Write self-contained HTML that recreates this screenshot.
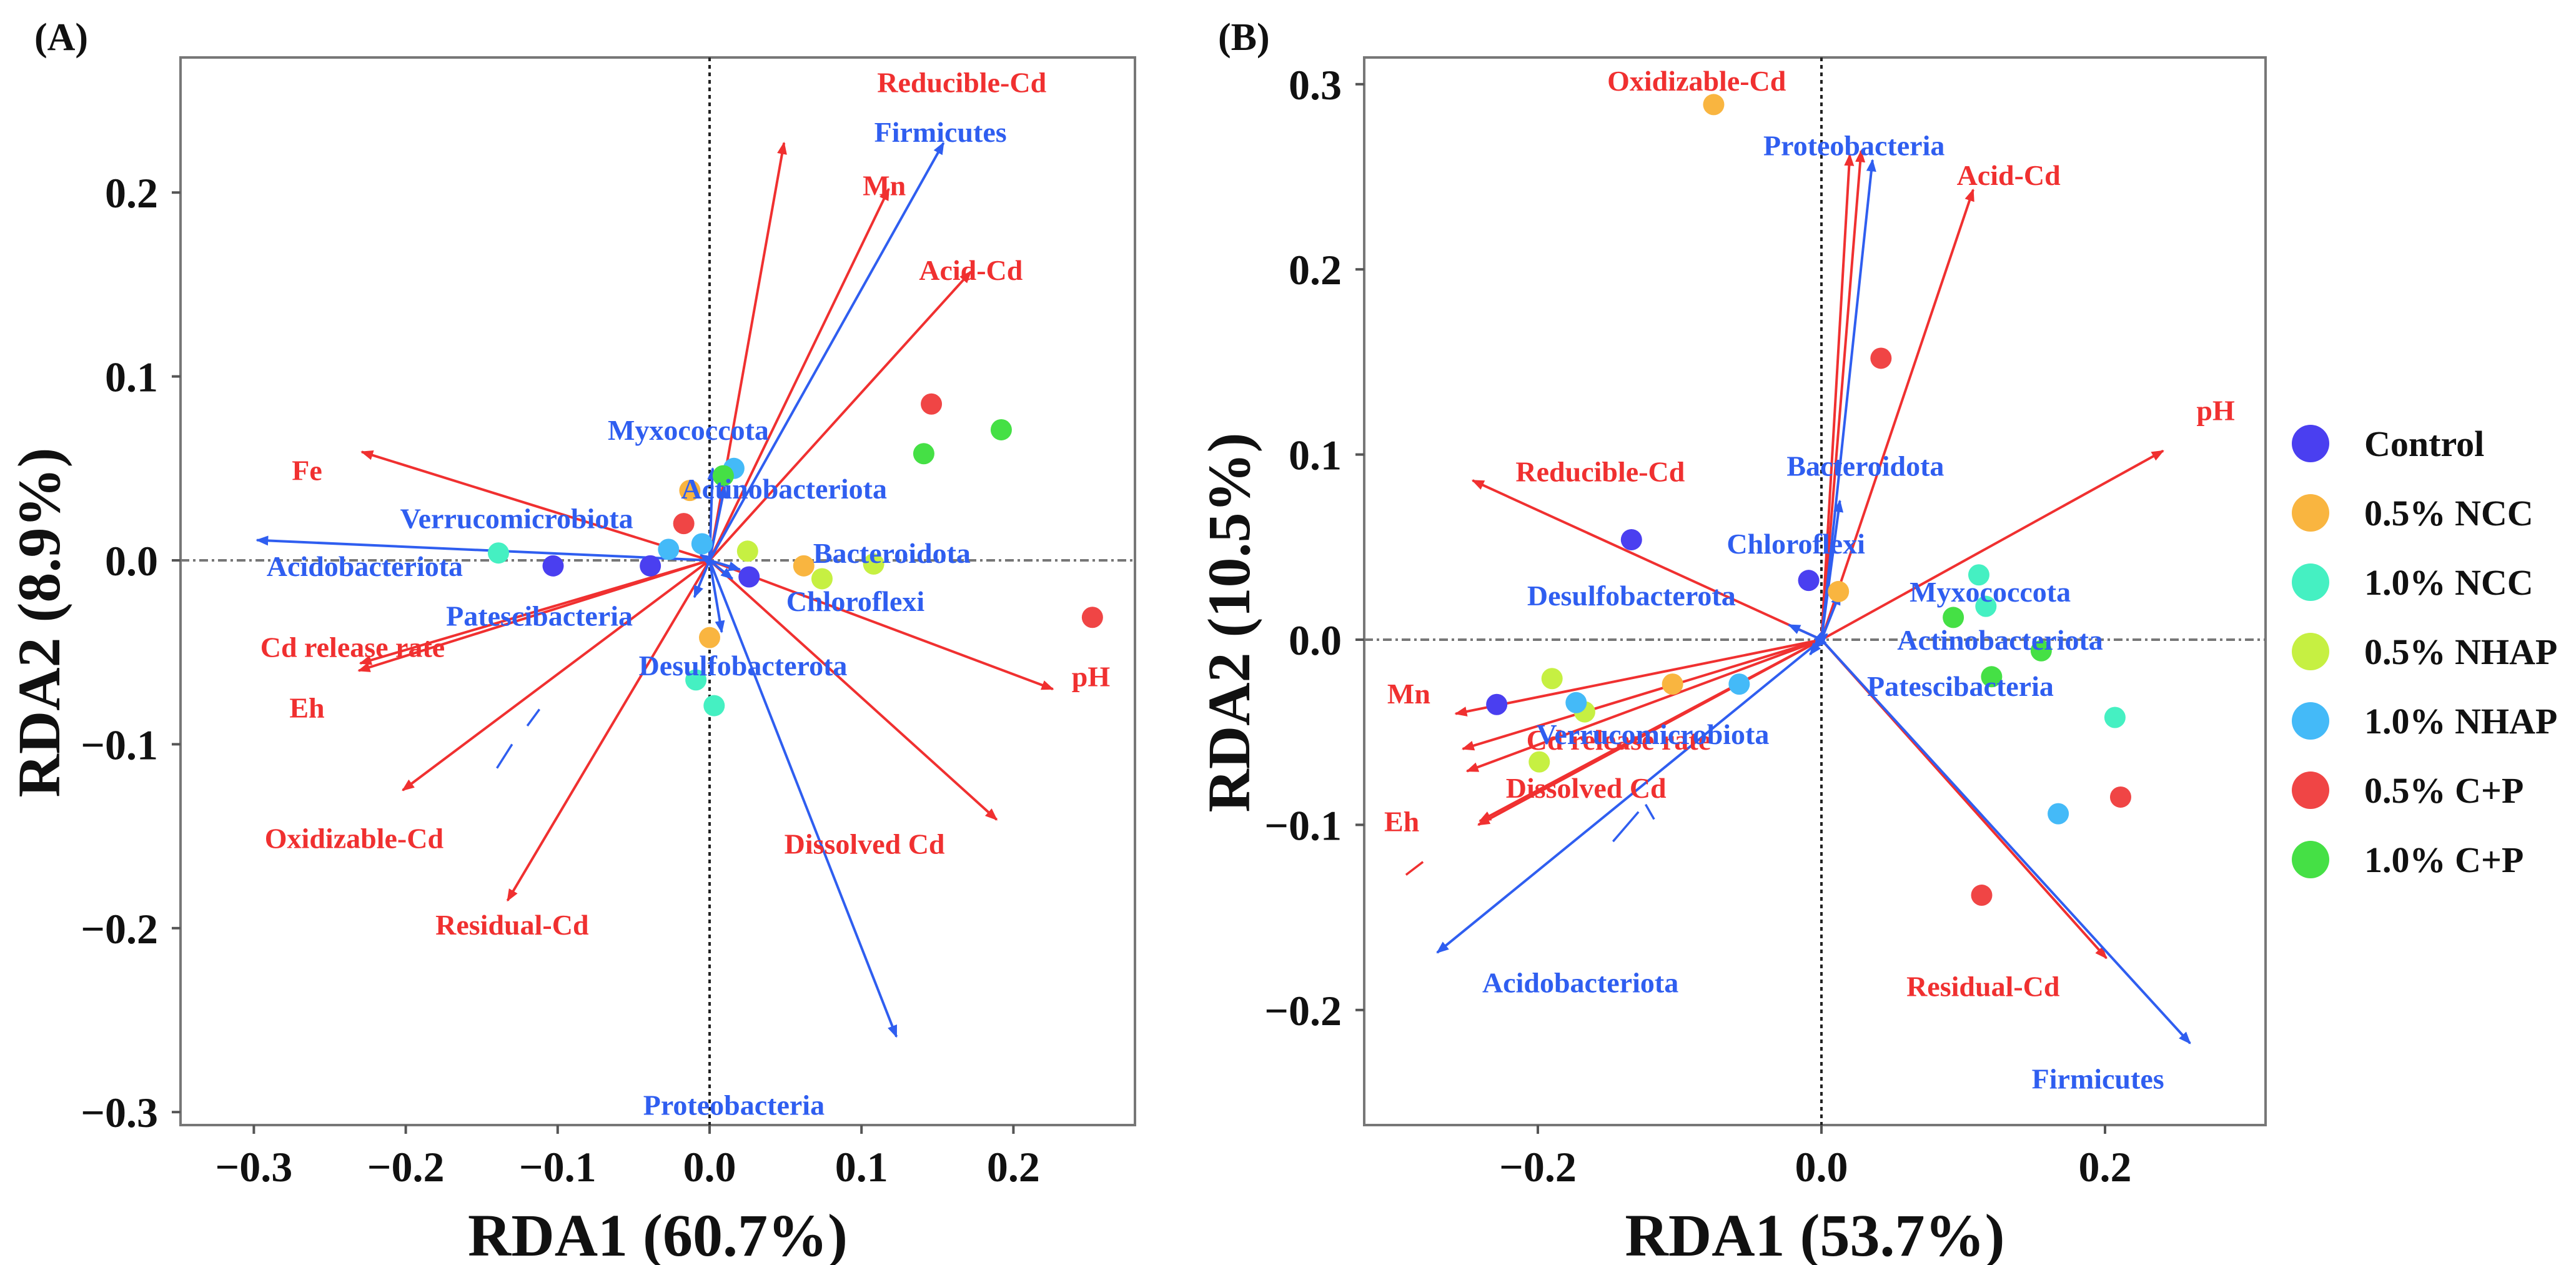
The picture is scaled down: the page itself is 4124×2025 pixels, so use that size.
<!DOCTYPE html>
<html><head><meta charset="utf-8"><style>
html,body{margin:0;padding:0;background:#fff}
svg{display:block;font-family:"Liberation Serif",serif;font-weight:bold}
</style></head><body>
<svg id="chart" width="4124" height="2025" viewBox="0 0 4124 2025" xmlns="http://www.w3.org/2000/svg">
<defs>
<marker id="ar" viewBox="0 0 10 10" refX="9" refY="5" markerWidth="5" markerHeight="5" orient="auto"><path d="M0,1 L10,5 L0,9 z" fill="#f03030"/></marker>
<marker id="ab" viewBox="0 0 10 10" refX="9" refY="5" markerWidth="5" markerHeight="5" orient="auto"><path d="M0,1 L10,5 L0,9 z" fill="#2f5ef0"/></marker>
</defs>
<g id="layer"></g>
</svg>
<script>
// ---------- Panel A data ----------
const aEnvNames = ["Reducible-Cd","Mn","Acid-Cd","Fe","Cd release rate","Eh","Oxidizable-Cd","Residual-Cd","Dissolved Cd","pH"];
const aEnvX = [0.049,0.118,0.172,-0.229,-0.230,-0.231,-0.202,-0.133,0.189,0.226];
const aEnvY = [0.227,0.202,0.157,0.059,-0.056,-0.060,-0.125,-0.185,-0.141,-0.070];
const aEnvLX = [0.166,0.115,0.172,-0.265,-0.235,-0.265,-0.234,-0.130,0.102,0.251];
const aEnvLY = [0.260,0.204,0.158,0.049,-0.047,-0.080,-0.151,-0.198,-0.154,-0.063];
const aSpNames = ["Firmicutes","Acidobacteriota","Proteobacteria","Myxococcota","Actinobacteriota","Verrucomicrobiota","Bacteroidota","Chloroflexi","Patescibacteria","Desulfobacterota"];
const aSpX = [0.154,-0.298,0.123,0.002,0.010,-0.006,0.020,0.015,-0.010,0.008];
const aSpY = [0.227,0.011,-0.259,0.050,0.040,0.003,-0.005,-0.010,-0.020,-0.039];
const aSpLX = [0.152,-0.227,0.016,-0.014,0.049,-0.127,0.120,0.096,-0.112,0.022];
const aSpLY = [0.233,-0.003,-0.296,0.071,0.039,0.023,0.004,-0.022,-0.030,-0.057];
const aPtGroup = [0,0,0,1,1,1,2,2,2,3,3,3,4,4,4,5,5,5,6,6,6];
const aPtX = [-0.103,-0.039,0.026,-0.013,0.062,0.000,-0.139,-0.009,0.003,0.025,0.074,0.108,-0.027,-0.005,0.016,-0.017,0.146,0.252,0.141,0.192,0.009];
const aPtY = [-0.003,-0.003,-0.009,0.038,-0.003,-0.042,0.004,-0.065,-0.079,0.005,-0.010,-0.002,0.006,0.009,0.050,0.020,0.085,-0.031,0.058,0.071,0.046];
const aXTicks = [-0.3,-0.2,-0.1,0.0,0.1,0.2];
const aXTickLabels = ["\u22120.3","\u22120.2","\u22120.1","0.0","0.1","0.2"];
const aYTicks = [0.2,0.1,0.0,-0.1,-0.2,-0.3];
const aYTickLabels = ["0.2","0.1","0.0","\u22120.1","\u22120.2","\u22120.3"];
// ---------- Panel B data ----------
const bEnvNames = ["Oxidizable-Cd","","Acid-Cd","pH","Reducible-Cd","Mn","Cd release rate","","Dissolved Cd","Eh","Residual-Cd"];
const bEnvX = [0.028,0.020,0.107,0.241,-0.246,-0.258,-0.253,-0.250,-0.241,-0.242,0.201];
const bEnvY = [0.264,0.262,0.243,0.102,0.086,-0.040,-0.059,-0.071,-0.098,-0.100,-0.172];
const bEnvLX = [-0.088,0,0.132,0.278,-0.156,-0.291,-0.143,0,-0.166,-0.296,0.114];
const bEnvLY = [0.302,0,0.251,0.124,0.091,-0.029,-0.054,0,-0.080,-0.098,-0.187];
const bSpNames = ["Proteobacteria","Bacteroidota","Chloroflexi","Desulfobacterota","Myxococcota","Actinobacteriota","Patescibacteria","Verrucomicrobiota","Acidobacteriota","Firmicutes"];
const bSpX = [0.036,0.013,0.013,-0.023,0.004,0.003,-0.008,-0.006,-0.271,0.260];
const bSpY = [0.259,0.075,0.025,0.008,0.003,-0.002,-0.008,-0.005,-0.169,-0.218];
const bSpLX = [0.023,0.031,-0.018,-0.134,0.119,0.126,0.098,-0.119,-0.170,0.195];
const bSpLY = [0.267,0.094,0.052,0.024,0.026,0.000,-0.025,-0.051,-0.185,-0.237];
const bPtGroup = [0,0,0,1,1,1,2,2,2,3,3,3,4,4,4,5,5,5,6,6,6];
const bPtX = [-0.134,-0.009,-0.229,-0.076,0.012,-0.105,0.111,0.116,0.207,-0.190,-0.167,-0.199,-0.173,-0.058,0.167,0.042,0.211,0.113,0.093,0.155,0.120];
const bPtY = [0.054,0.032,-0.035,0.289,0.026,-0.024,0.035,0.018,-0.042,-0.021,-0.039,-0.066,-0.034,-0.024,-0.094,0.152,-0.085,-0.138,0.012,-0.006,-0.020];
const bXTicks = [-0.2,0.0,0.2];
const bXTickLabels = ["\u22120.2","0.0","0.2"];
const bYTicks = [0.3,0.2,0.1,0.0,-0.1,-0.2];
const bYTickLabels = ["0.3","0.2","0.1","0.0","\u22120.1","\u22120.2"];
// ---------- legend ----------
const groupNames = ["Control","0.5% NCC","1.0% NCC","0.5% NHAP","1.0% NHAP","0.5% C+P","1.0% C+P"];
const groupColors = ["#4a3ff0","#f9b540","#45f0c2","#c6f042","#44baf8","#f04545","#45e045"];

const NS="http://www.w3.org/2000/svg";
const layer=document.getElementById('layer');
function mk(tag,attrs,parent){const e=document.createElementNS(NS,tag);for(const k in attrs)e.setAttribute(k,attrs[k]);(parent||layer).appendChild(e);return e;}
const RED="#f03030", BLUE="#2f5ef0";

function panel(cfg){
  const g=mk('g',{});
  
  
  const X=v=>cfg.x0+v*cfg.sx, Y=v=>cfg.y0-v*cfg.sy;
  const box=mk('rect',{x:cfg.L,y:cfg.T,width:cfg.R-cfg.L,height:cfg.B-cfg.T,fill:'none',stroke:'#777','stroke-width':4},g);
  
  
  const zv=mk('line',{x1:X(0),x2:X(0),y1:cfg.T,y2:cfg.B,stroke:'#222','stroke-width':4,'stroke-dasharray':'6 6'},g);
  
  
  const zh=mk('line',{x1:cfg.L,x2:cfg.R,y1:Y(0),y2:Y(0),stroke:'#777','stroke-width':4,'stroke-dasharray':'14 6 4 6'},g);
  
  
  cfg.xt.forEach((v,i)=>{
    mk('line',{x1:X(v),x2:X(v),y1:cfg.B,y2:cfg.B+14,stroke:'#555','stroke-width':4},g);
    const t=mk('text',{x:X(v),y:cfg.B+90,'text-anchor':'middle','font-size':68,fill:'#111'},g);
    t.textContent=cfg.xtl[i];
    
    
  });
  cfg.yt.forEach((v,i)=>{
    mk('line',{x1:cfg.L-14,x2:cfg.L,y1:Y(v),y2:Y(v),stroke:'#555','stroke-width':4},g);
    const t=mk('text',{x:cfg.L-36,y:Y(v)+24,'text-anchor':'end','font-size':68,fill:'#111'},g);
    t.textContent=cfg.ytl[i];
    
    
  });
  cfg.ex.forEach((v,i)=>{
    const l=mk('line',{x1:X(0),y1:Y(0),x2:X(v),y2:Y(cfg.ey[i]),stroke:RED,'stroke-width':4,'marker-end':'url(#ar)'},g);
    
    
  });
  cfg.sx_.forEach((v,i)=>{
    const l=mk('line',{x1:X(0),y1:Y(0),x2:X(v),y2:Y(cfg.sy_[i]),stroke:BLUE,'stroke-width':4,'marker-end':'url(#ab)'},g);
    
    
  });
  (cfg.extra||[]).forEach(s=>{
    const l=mk('line',{x1:X(s[0]),y1:Y(s[1]),x2:X(s[2]),y2:Y(s[3]),stroke:s[4],'stroke-width':3.5},g);
    
    
  });
  cfg.px.forEach((v,i)=>{
    const c=mk('circle',{cx:X(v),cy:Y(cfg.py[i]),r:17,fill:groupColors[cfg.pg[i]]},g);
    
    
  });
  cfg.en.forEach((n,i)=>{
    if(!n)return;
    const t=mk('text',{x:X(cfg.elx[i]),y:Y(cfg.ely[i])+16,'text-anchor':'middle','font-size':46,fill:RED},g);
    t.textContent=n;
    
    
  });
  cfg.sn.forEach((n,i)=>{
    const t=mk('text',{x:X(cfg.slx[i]),y:Y(cfg.sly[i])+16,'text-anchor':'middle','font-size':46,fill:BLUE},g);
    t.textContent=n;
    
    
  });
  const xt=mk('text',{x:(cfg.L+cfg.R)/2,y:2010,'text-anchor':'middle','font-size':96,fill:'#111'},g);
  xt.textContent=cfg.xtitle;
  
  
  const yt=mk('text',{x:0,y:0,'text-anchor':'middle','font-size':96,fill:'#111',transform:`translate(${cfg.ytx},${(cfg.T+cfg.B)/2+50}) rotate(-90)`},g);
  yt.textContent=cfg.ytitle;
  
  
  const pl=mk('text',{x:cfg.plx,y:80,'font-size':62,fill:'#111'},g);
  pl.textContent=cfg.plabel;
  
  
}
panel({key:'a',L:289,R:1817,T:92,B:1801,x0:1136,sx:2432,y0:897,sy:2944,
  xt:aXTicks,xtl:aXTickLabels,yt:aYTicks,ytl:aYTickLabels,
  ex:aEnvX,ey:aEnvY,en:aEnvNames,elx:aEnvLX,ely:aEnvLY,
  sx_:aSpX,sy_:aSpY,sn:aSpNames,slx:aSpLX,sly:aSpLY,
  px:aPtX,py:aPtY,pg:aPtGroup,
  extra:[[-0.140,-0.113,-0.130,-0.100,BLUE],[-0.120,-0.090,-0.112,-0.081,BLUE]],
  xtitle:'RDA1 (60.7%)',ytitle:'RDA2 (8.9%)',ytx:95,plx:55,plabel:'(A)'});
panel({key:'b',L:2184,R:3627,T:92,B:1801,x0:2916,sx:2270,y0:1024,sy:2964,
  xt:bXTicks,xtl:bXTickLabels,yt:bYTicks,ytl:bYTickLabels,
  ex:bEnvX,ey:bEnvY,en:bEnvNames,elx:bEnvLX,ely:bEnvLY,
  sx_:bSpX,sy_:bSpY,sn:bSpNames,slx:bSpLX,sly:bSpLY,
  px:bPtX,py:bPtY,pg:bPtGroup,
  extra:[[-0.293,-0.127,-0.281,-0.120,RED],[-0.147,-0.109,-0.129,-0.093,BLUE],[-0.124,-0.089,-0.118,-0.097,BLUE]],
  xtitle:'RDA1 (53.7%)',ytitle:'RDA2 (10.5%)',ytx:2000,plx:1950,plabel:'(B)'});
const lg=mk('g',{});


groupNames.forEach((n,i)=>{
  const y=710+i*111;
  const c=mk('circle',{cx:3699,cy:y,r:30,fill:groupColors[i]},lg);
  
  
  const t=mk('text',{x:3785,y:y+20,'font-size':58,fill:'#111'},lg);
  t.textContent=n;
  
  
});
</script>
</body></html>
